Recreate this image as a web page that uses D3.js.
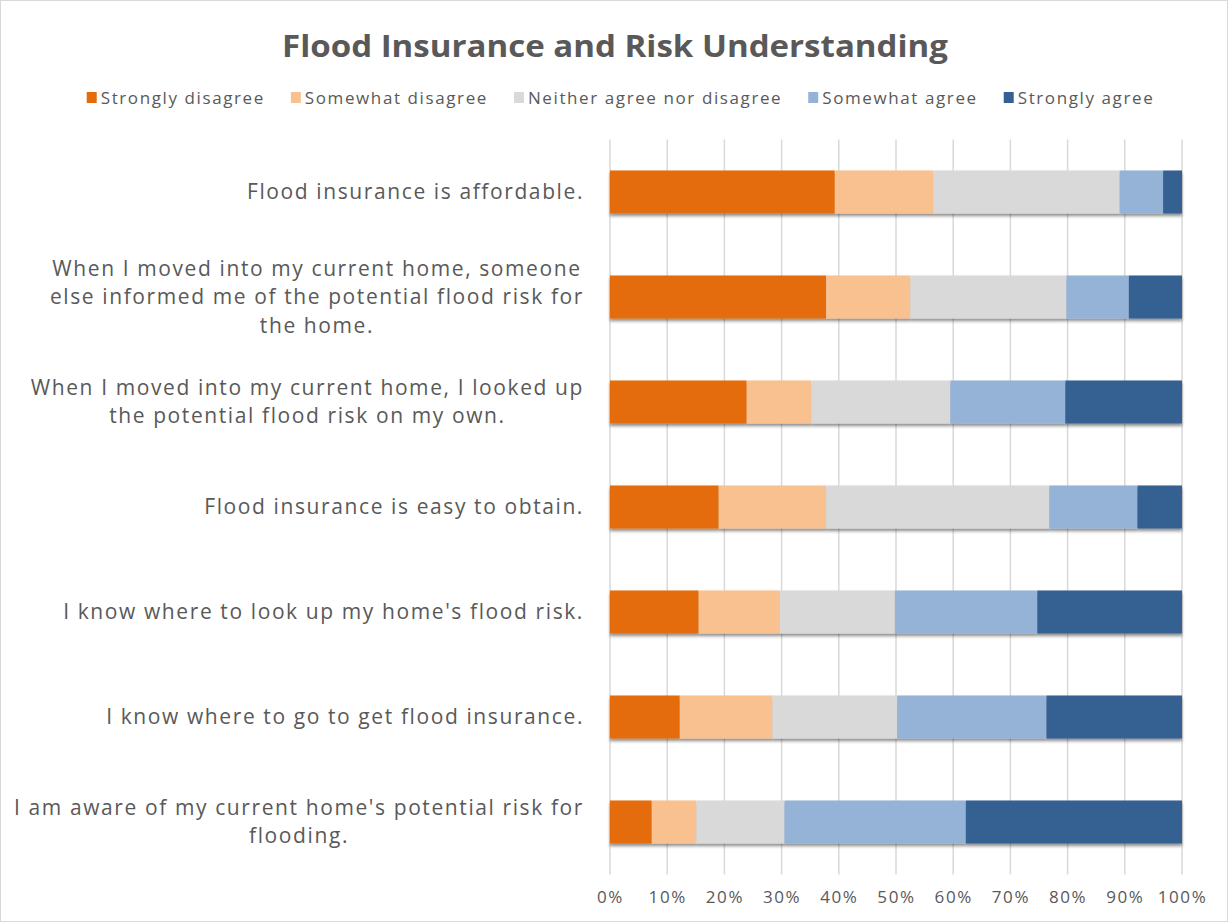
<!DOCTYPE html>
<html>
<head>
<meta charset="utf-8">
<script src="https://cdn.jsdelivr.net/npm/d3@7"></script>
<style>
  html, body { margin: 0; padding: 0; background: #fff; }
  svg { display: block; }
  text { font-family: "Open Sans", "Noto Sans", sans-serif; fill: #595959; }
</style>
</head>
<body>
<svg id="chart" width="1228" height="922"></svg>
<script>
const title = "Flood Insurance and Risk Understanding";
const categories = [
  "Flood insurance is affordable.",
  "When I moved into my current home, someone\nelse informed me of the potential flood risk for\nthe home.",
  "When I moved into my current home, I looked up\nthe potential flood risk on my own.",
  "Flood insurance is easy to obtain.",
  "I know where to look up my home's flood risk.",
  "I know where to go to get flood insurance.",
  "I am aware of my current home's potential risk for\nflooding."
];
const seriesNames = ["Strongly disagree", "Somewhat disagree", "Neither agree nor disagree", "Somewhat agree", "Strongly agree"];
const stronglyDisagree = [39.3, 37.8, 23.9, 19.0, 15.5, 12.2, 7.3];
const somewhatDisagree = [17.2, 14.7, 11.3, 18.8, 14.2, 16.2, 7.8];
const neitherAgree     = [32.6, 27.3, 24.3, 39.0, 20.1, 21.8, 15.4];
const somewhatAgree    = [7.6, 10.9, 20.1, 15.4, 24.9, 26.1, 31.7];
const stronglyAgree    = [3.3, 9.3, 20.4, 7.8, 25.3, 23.7, 37.8];
const tickValues = [0, 0.1, 0.2, 0.3, 0.4, 0.5, 0.6, 0.7, 0.8, 0.9, 1.0];
const colors = ["#E46C0A", "#F9C090", "#D9D9D9", "#95B3D7", "#366092"];

const seriesValues = [stronglyDisagree, somewhatDisagree, neitherAgree, somewhatAgree, stronglyAgree];
const rows = categories.map((c, i) => {
  const r = { category: c };
  seriesNames.forEach((s, j) => r[s] = seriesValues[j][i]);
  return r;
});
const stacked = d3.stack().keys(seriesNames).offset(d3.stackOffsetExpand)(rows);

const svg = d3.select("#chart");
const W = 1228, H = 922;

svg.append("rect").attr("x", 0.5).attr("y", 0.5).attr("width", W - 1).attr("height", H - 1)
  .attr("fill", "#fff").attr("stroke", "#d9d9d9").attr("stroke-width", 1);

const defs = svg.append("defs");
const f = defs.append("filter").attr("id", "shadow").attr("x", "-5%").attr("y", "-20%").attr("width", "110%").attr("height", "160%");
f.append("feDropShadow").attr("dx", 0).attr("dy", 2.5).attr("stdDeviation", 1.6)
  .attr("flood-color", "#000").attr("flood-opacity", 0.45);

const x = d3.scaleLinear().domain([0, 1]).range([610, 1182]);
const y = d3.scaleBand().domain(categories).range([139.5, 874.5]).paddingInner(0.59).paddingOuter(0.295);

// gridlines
svg.append("g").selectAll("line").data(tickValues).join("line")
  .attr("x1", d => x(d)).attr("x2", d => x(d))
  .attr("y1", 139.5).attr("y2", 874.5)
  .attr("stroke", "#d9d9d9").attr("stroke-width", 1.5);

// x axis labels
const xAxis = d3.axisBottom(x).tickValues(tickValues).tickFormat(d3.format(".0%")).tickSize(0).tickPadding(0);
const ax = svg.append("g").attr("transform", "translate(0,891)").call(xAxis);
ax.select(".domain").remove();
ax.selectAll("text").attr("font-size", 17).attr("fill", "#595959")
  .attr("letter-spacing", 1.6)
  .attr("font-family", "\"Open Sans\", sans-serif");

// bars
const layers = svg.append("g").attr("filter", "url(#shadow)");
layers.selectAll("g").data(stacked).join("g")
  .attr("fill", (d, i) => colors[i])
  .selectAll("rect").data(d => d).join("rect")
  .attr("x", d => x(d[0]))
  .attr("width", d => x(d[1]) - x(d[0]))
  .attr("y", d => y(d.data.category))
  .attr("height", y.bandwidth());

// category labels
const labelRight = 584;
const lineH = 28.5;
const labels = svg.append("g");
categories.forEach(c => {
  const lines = c.split("\n");
  const g = labels.append("g");
  const cy = y(c) + y.bandwidth() / 2;
  const ts = lines.map((ln, i) => g.append("text")
    .attr("font-size", 21)
    .attr("letter-spacing", 1.6)
    .attr("dominant-baseline", "central")
    .attr("y", cy - 1 + (i - (lines.length - 1) / 2) * lineH)
    .text(ln));
  const maxW = d3.max(ts, t => t.node().getComputedTextLength());
  ts.forEach(t => t.attr("text-anchor", "middle").attr("x", labelRight - maxW / 2));
});

// title
svg.append("text").attr("x", 615).attr("y", 45)
  .attr("text-anchor", "middle").attr("dominant-baseline", "central")
  .attr("font-size", 31).attr("font-weight", "bold")
  .attr("textLength", 666).attr("lengthAdjust", "spacingAndGlyphs")
  .text(title);

// legend
const legend = svg.append("g");
const items = seriesNames.map((s, i) => {
  const g = legend.append("g");
  g.append("rect").attr("x", 0).attr("y", -5).attr("width", 10).attr("height", 11).attr("fill", colors[i]);
  const t = g.append("text").attr("x", 14).attr("y", 0).attr("dominant-baseline", "central")
    .attr("font-size", 17).attr("letter-spacing", 1.6).text(s);
  return { g, w: 14 + t.node().getComputedTextLength() };
});
const gap = 26;
const total = d3.sum(items, d => d.w) + gap * (items.length - 1);
let cx = 620.5 - total / 2;
items.forEach(it => { it.g.attr("transform", `translate(${cx},97)`); cx += it.w + gap; });
</script>
</body>
</html>
